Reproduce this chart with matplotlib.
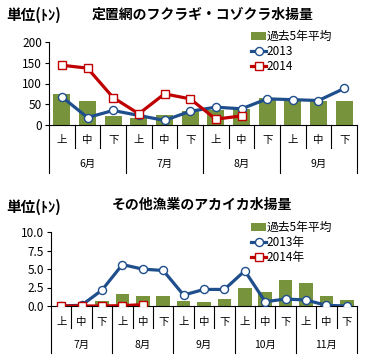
import matplotlib
matplotlib.use("Agg")
import matplotlib.pyplot as plt
import numpy as np

plt.rcParams['font.family'] = ['Noto Sans CJK JP', 'DejaVu Sans']

# ---- data: top chart ----
top_sub = ["上", "中", "下"] * 4
top_months = ["6月", "7月", "8月", "9月"]
top_avg = [75, 57, 22, 17, 25, 33, 37, 38, 65, 60, 57, 59]
top_2013 = [68, 18, 35, 23, 11, 33, 43, 39, 63, 61, 59, 88]
top_2014 = [144, 137, 66, 27, 75, 63, 14, 22]
top_yticks = [0, 50, 100, 150, 200]

# ---- data: bottom chart ----
bot_sub = ["上", "中", "下"] * 5
bot_months = ["7月", "8月", "9月", "10月", "11月"]
bot_avg = [0.0, 0.1, 0.63, 1.66, 1.3, 1.39, 0.67, 0.49, 0.94, 2.38, 1.88, 3.5, 3.14, 1.39, 0.76]
bot_2013 = [0.0, 0.1, 2.15, 5.6, 4.98, 4.8, 1.48, 2.24, 2.24, 4.75, 0.58, 0.94, 0.81, 0.09, 0.0]
bot_2014 = [0.0, 0.0, 0.0, 0.05, 0.18]
bot_yticks = [0.0, 2.5, 5.0, 7.5, 10.0]

GREEN = '#77933C'
BLUE = '#1F4E8C'
RED = '#C00000'

W, H = 365, 361
fig = plt.figure(figsize=(W / 100, H / 100), dpi=100)


def make_axes(l, r, t, b):
    return fig.add_axes([l / W, 1 - b / H, (r - l) / W, (b - t) / H])


def draw(ax, top, bottom, sub, months, avg, s13, s14, yticks, ymax, fmt,
         lab13, lab14, y_sub, y_mon, y_short, y_long, leg_xy, title, title_xy, unit_xy):
    n = len(sub)
    x = np.arange(n)
    hpx = bottom - top
    hb = ax.bar(x, avg, width=0.66, color=GREEN, label="過去5年平均", zorder=2)
    h13, = ax.plot(np.arange(len(s13)), s13, color=BLUE, lw=2.3, marker='o', ms=5.8,
                   mfc='white', mec=BLUE, mew=1.0, label=lab13, zorder=4)
    h14, = ax.plot(np.arange(len(s14)), s14, color=RED, lw=2.3, marker='s', ms=5.8,
                   mfc='white', mec=RED, mew=1.0, label=lab14, zorder=5)
    ax.set_xlim(-0.5, n - 0.5)
    ax.set_ylim(0, ymax)
    ax.set_yticks(yticks)
    ax.set_yticklabels([fmt.format(v) for v in yticks])
    ax.tick_params(axis='y', length=3, width=0.8, labelsize=8.5, pad=2)
    ax.set_xticks([])
    for s in ['top', 'right']:
        ax.spines[s].set_visible(False)
    ax.spines['left'].set_linewidth(0.8)
    ax.spines['bottom'].set_linewidth(0.8)
    tr = ax.get_xaxis_transform()
    f = lambda py: -(py - bottom) / hpx
    for i in range(n + 1):
        yb = f(y_long) if i % 3 == 0 else f(y_short)
        ax.plot([i - 0.5, i - 0.5], [0, yb], color='black', lw=0.8,
                transform=tr, clip_on=False)
    for i, s in enumerate(sub):
        ax.text(i, f(y_sub), s, transform=tr, ha='center', va='center', fontsize=7.5)
    for j, m in enumerate(months):
        ax.text(3 * j + 1, f(y_mon), m, transform=tr, ha='center', va='center', fontsize=7.5)
    ax.legend([hb, h13, h14], ["過去5年平均", lab13, lab14],
              loc='upper left', bbox_to_anchor=(leg_xy[0] / W, 1 - leg_xy[1] / H),
              bbox_transform=fig.transFigure, frameon=False, fontsize=8.5,
              handlelength=1.3, handleheight=0.6, handletextpad=0.05, labelspacing=0.15,
              borderpad=0, borderaxespad=0)
    fig.text(title_xy[0] / W, 1 - title_xy[1] / H, title, ha='center', va='center',
             fontsize=10, fontweight='bold')
    fig.text(unit_xy[0] / W, 1 - unit_xy[1] / H, "単位(ﾄﾝ)", ha='left', va='center',
             fontsize=10.5, fontweight='bold')


ax1 = make_axes(49, 357, 42, 125)
draw(ax1, 42, 125, top_sub, top_months, top_avg, top_2013, top_2014, top_yticks, 200,
     "{:.0f}", "2013", "2014", 140, 164, 148, 173, (251, 30),
     "定置網のフクラギ・コゾクラ水揚量", (203, 15), (6, 15))

ax2 = make_axes(51, 357, 232, 306)
draw(ax2, 232, 306, bot_sub, bot_months, bot_avg, bot_2013, bot_2014, bot_yticks, 10.0,
     "{:.1f}", "2013年", "2014年", 322, 345, 328, 353, (251, 221),
     "その他漁業のアカイカ水揚量", (202, 205), (6, 207))

fig.savefig("out.png", dpi=100)
